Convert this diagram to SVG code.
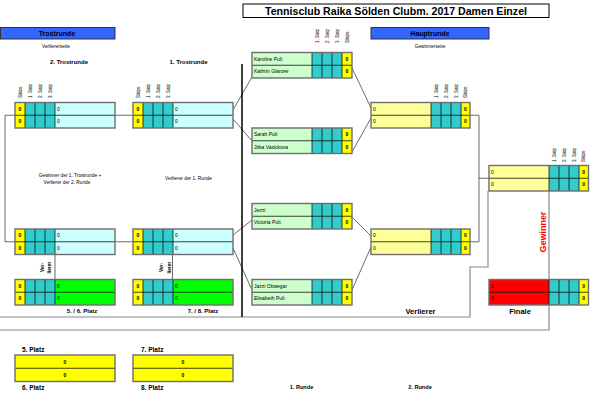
<svg xmlns="http://www.w3.org/2000/svg" width="600" height="400" viewBox="0 0 600 400">
<style>
text{font-family:"Liberation Sans",Arial,sans-serif;fill:#000}
.b{font-weight:bold}
.y{fill:#ffff00}.t{fill:#33cccc}.c{fill:#ccffff}.g{fill:#00ff00}.lg{fill:#ccffcc}.ly{fill:#ffff99}.r{fill:#ff0000}
.o{fill:none;stroke:#6e6e6e;stroke-width:1.4}
.k{fill:none;stroke:#111;stroke-width:.8}
.cn{fill:none;stroke:#444;stroke-width:.8}
.bd{fill:none;stroke:#8a8a8a;stroke-width:1.2}
.z{font-size:5px;font-weight:bold;text-anchor:middle}
.n{font-size:5px}
.h{font-size:4.5px}
.m{text-anchor:middle}
</style>
<rect width="600" height="400" fill="#fff"/>

<g id="header">
<rect x="243" y="4" width="306" height="13.5" fill="#fff" stroke="#000" stroke-width="1"/>
<text x="396" y="14.8" class="b m" font-size="10.5" textLength="262" lengthAdjust="spacingAndGlyphs">Tennisclub Raika Sölden Clubm. 2017 Damen Einzel</text>
<rect x="0.5" y="27.5" width="114.5" height="11.5" fill="#3366ff" stroke="#333" stroke-width="1"/>
<text x="57" y="36" class="b m" font-size="7">Trostrunde</text>
<text x="56" y="47.5" class="m" font-size="4.8">Verliererseite</text>
<rect x="371" y="27.5" width="118" height="11.5" fill="#3366ff" stroke="#333" stroke-width="1"/>
<text x="430" y="36" class="b m" font-size="7">Hauptrunde</text>
<text x="430" y="47.5" class="m" font-size="4.8">Gewinnerseite</text>
<text x="69" y="64" class="b m" font-size="6">2. Trostrunde</text>
<text x="188.5" y="64" class="b m" font-size="6">1. Trostrunde</text>
<text x="70" y="176.8" class="m" font-size="4.8">Gewinner der 1. Trostrunde +</text>
<text x="67" y="183.5" class="m" font-size="4.8">Verlierer der 2. Runde</text>
<text x="188.5" y="180" class="m" font-size="4.8">Verlierer der 1. Runde</text>
<text x="82" y="312.5" class="b m" font-size="6">5. / 6. Platz</text>
<text x="203" y="312.5" class="b m" font-size="6">7. / 8. Platz</text>
<text x="420.5" y="313.8" class="b m" font-size="7.5">Verlierer</text>
<text x="520" y="314.3" class="b m" font-size="7.5">Finale</text>
<text x="22" y="351.5" class="b" font-size="6.5">5. Platz</text>
<text x="22" y="389.7" class="b" font-size="6.5">6. Platz</text>
<text x="141" y="351.5" class="b" font-size="6.5">7. Platz</text>
<text x="141" y="389.7" class="b" font-size="6.5">8. Platz</text>
<text x="301.5" y="389" class="b m" font-size="5.6">1. Runde</text>
<text x="420" y="389" class="b m" font-size="5.6">2. Runde</text>
<text transform="rotate(-90 545.5 232)" x="545.5" y="232" class="b m" font-size="9" style="fill:#ff0000">Gewinner</text>
<text transform="rotate(-90 43.5 267.5)" x="43.5" y="267.5" class="b m" font-size="4.8">Ver-<tspan x="43.5" dy="7.8">lierer</tspan></text>
<text transform="rotate(-90 162.8 267.5)" x="162.8" y="267.5" class="b m" font-size="4.8">Ver-<tspan x="162.8" dy="7.8">lierer</tspan></text>
</g>

<g id="column-labels" class="h">
<text transform="rotate(-90 21.6 98)" x="21.6" y="98">Sätze</text>
<text transform="rotate(-90 31.6 98)" x="31.6" y="98">1. Satz</text>
<text transform="rotate(-90 41.6 98)" x="41.6" y="98">2. Satz</text>
<text transform="rotate(-90 51.6 98)" x="51.6" y="98">3. Satz</text>
<text transform="rotate(-90 139.6 98)" x="139.6" y="98">Sätze</text>
<text transform="rotate(-90 149.6 98)" x="149.6" y="98">1. Satz</text>
<text transform="rotate(-90 159.6 98)" x="159.6" y="98">2. Satz</text>
<text transform="rotate(-90 169.6 98)" x="169.6" y="98">3. Satz</text>
<text transform="rotate(-90 318.6 43)" x="318.6" y="43">1. Satz</text>
<text transform="rotate(-90 328.6 43)" x="328.6" y="43">2. Satz</text>
<text transform="rotate(-90 338.6 43)" x="338.6" y="43">3. Satz</text>
<text transform="rotate(-90 348.6 43)" x="348.6" y="43">Sätze</text>
<text transform="rotate(-90 437.6 98)" x="437.6" y="98">1. Satz</text>
<text transform="rotate(-90 447.6 98)" x="447.6" y="98">2. Satz</text>
<text transform="rotate(-90 457.6 98)" x="457.6" y="98">3. Satz</text>
<text transform="rotate(-90 467.2 98)" x="467.2" y="98">Sätze</text>
<text transform="rotate(-90 555.6 162)" x="555.6" y="162">1. Satz</text>
<text transform="rotate(-90 565.6 162)" x="565.6" y="162">2. Satz</text>
<text transform="rotate(-90 575.6 162)" x="575.6" y="162">3. Satz</text>
<text transform="rotate(-90 585.4 162)" x="585.4" y="162">Sätze</text>
</g>

<g id="connectors">
<path class="cn" d="M133,115.25H5V241.75H133"/>
<path class="cn" d="M233,110L252,77M233,119L252,141M233,235L252,220M233,248L252,290"/>
<path class="cn" d="M352,68L371,108M352,152L371,118M352,217L371,236M352,290L371,247"/>
<path class="cn" d="M470,115.25H479V241.75H470M479,178.25H489"/>
<path class="cn" d="M55,254.5V279.5M172.5,254.5V279.5"/>
<path class="bd" d="M0,317H470V267H488V191"/>
<path class="bd" d="M0,330H549V191"/>
<path d="M242,64V317" stroke="#000" stroke-width="1.5" fill="none"/>
</g>

<g id="trost2-a">
<rect class="y" x="15" y="102.5" width="10" height="25.5"/><rect class="t" x="25" y="102.5" width="30" height="25.5"/><rect class="c" x="55" y="102.5" width="60" height="25.5"/>
<path class="k" d="M25,102.5v25.5M35,102.5v25.5M45,102.5v25.5M55,102.5v25.5M15,115.25h100"/>
<rect class="o" x="15" y="102.5" width="100" height="25.5"/>
<text class="z" x="20" y="110.7">0</text><text class="z" x="20" y="123.4">0</text>
<text class="n" x="57" y="110.7">0</text><text class="n" x="57" y="123.4">0</text>
</g>
<g id="trost1-a">
<rect class="y" x="133" y="102.5" width="10" height="25.5"/><rect class="t" x="143" y="102.5" width="30" height="25.5"/><rect class="c" x="173" y="102.5" width="60" height="25.5"/>
<path class="k" d="M143,102.5v25.5M153,102.5v25.5M163,102.5v25.5M173,102.5v25.5M133,115.25h100"/>
<rect class="o" x="133" y="102.5" width="100" height="25.5"/>
<text class="z" x="138" y="110.7">0</text><text class="z" x="138" y="123.4">0</text>
<text class="n" x="175" y="110.7">0</text><text class="n" x="175" y="123.4">0</text>
</g>
<g id="trost2-b">
<rect class="y" x="15" y="229" width="10" height="25.5"/><rect class="t" x="25" y="229" width="30" height="25.5"/><rect class="c" x="55" y="229" width="60" height="25.5"/>
<path class="k" d="M25,229v25.5M35,229v25.5M45,229v25.5M55,229v25.5M15,241.75h100"/>
<rect class="o" x="15" y="229" width="100" height="25.5"/>
<text class="z" x="20" y="237.2">0</text><text class="z" x="20" y="249.9">0</text>
<text class="n" x="57" y="237.2">0</text><text class="n" x="57" y="249.9">0</text>
</g>
<g id="trost1-b">
<rect class="y" x="133" y="229" width="10" height="25.5"/><rect class="t" x="143" y="229" width="30" height="25.5"/><rect class="c" x="173" y="229" width="60" height="25.5"/>
<path class="k" d="M143,229v25.5M153,229v25.5M163,229v25.5M173,229v25.5M133,241.75h100"/>
<rect class="o" x="133" y="229" width="100" height="25.5"/>
<text class="z" x="138" y="237.2">0</text><text class="z" x="138" y="249.9">0</text>
<text class="n" x="175" y="237.2">0</text><text class="n" x="175" y="249.9">0</text>
</g>
<g id="platz56-match">
<rect class="y" x="15" y="279.5" width="10" height="25.5"/><rect class="t" x="25" y="279.5" width="30" height="25.5"/><rect class="g" x="55" y="279.5" width="60" height="25.5"/>
<path class="k" d="M25,279.5v25.5M35,279.5v25.5M45,279.5v25.5M55,279.5v25.5M15,292.25h100"/>
<rect class="o" x="15" y="279.5" width="100" height="25.5"/>
<text class="z" x="20" y="287.7">0</text><text class="z" x="20" y="300.4">0</text>
<text class="n" x="57" y="287.7">0</text><text class="n" x="57" y="300.4">0</text>
</g>
<g id="platz78-match">
<rect class="y" x="133" y="279.5" width="10" height="25.5"/><rect class="t" x="143" y="279.5" width="30" height="25.5"/><rect class="g" x="173" y="279.5" width="60" height="25.5"/>
<path class="k" d="M143,279.5v25.5M153,279.5v25.5M163,279.5v25.5M173,279.5v25.5M133,292.25h100"/>
<rect class="o" x="133" y="279.5" width="100" height="25.5"/>
<text class="z" x="138" y="287.7">0</text><text class="z" x="138" y="300.4">0</text>
<text class="n" x="175" y="287.7">0</text><text class="n" x="175" y="300.4">0</text>
</g>

<g id="qf1">
<rect class="lg" x="252" y="52.5" width="60" height="25.5"/><rect class="t" x="312" y="52.5" width="30" height="25.5"/><rect class="y" x="342" y="52.5" width="10" height="25.5"/>
<path class="k" d="M312,52.5v25.5M322,52.5v25.5M332,52.5v25.5M342,52.5v25.5M252,65.25h100"/>
<rect class="o" x="252" y="52.5" width="100" height="25.5"/>
<text class="n" x="254" y="60.7">Karoline Pult</text><text class="n" x="254" y="73.4">Kathrin Glanzer</text>
<text class="z" x="347" y="60.7">0</text><text class="z" x="347" y="73.4">0</text>
</g>
<g id="qf2">
<rect class="lg" x="252" y="128" width="60" height="25.5"/><rect class="t" x="312" y="128" width="30" height="25.5"/><rect class="y" x="342" y="128" width="10" height="25.5"/>
<path class="k" d="M312,128v25.5M322,128v25.5M332,128v25.5M342,128v25.5M252,140.75h100"/>
<rect class="o" x="252" y="128" width="100" height="25.5"/>
<text class="n" x="254" y="136.2">Sarah Pult</text><text class="n" x="254" y="148.9">Jitka Vasickova</text>
<text class="z" x="347" y="136.2">0</text><text class="z" x="347" y="148.9">0</text>
</g>
<g id="qf3">
<rect class="lg" x="252" y="203.5" width="60" height="25.5"/><rect class="t" x="312" y="203.5" width="30" height="25.5"/><rect class="y" x="342" y="203.5" width="10" height="25.5"/>
<path class="k" d="M312,203.5v25.5M322,203.5v25.5M332,203.5v25.5M342,203.5v25.5M252,216.25h100"/>
<rect class="o" x="252" y="203.5" width="100" height="25.5"/>
<text class="n" x="254" y="211.7">Jezzi</text><text class="n" x="254" y="224.4">Victoria Pult</text>
<text class="z" x="347" y="211.7">0</text><text class="z" x="347" y="224.4">0</text>
</g>
<g id="qf4">
<rect class="lg" x="252" y="279.5" width="60" height="25.5"/><rect class="t" x="312" y="279.5" width="30" height="25.5"/><rect class="y" x="342" y="279.5" width="10" height="25.5"/>
<path class="k" d="M312,279.5v25.5M322,279.5v25.5M332,279.5v25.5M342,279.5v25.5M252,292.25h100"/>
<rect class="o" x="252" y="279.5" width="100" height="25.5"/>
<text class="n" x="254" y="287.7">Jazzi Obwegar</text><text class="n" x="254" y="300.4">Elisabeth Pult</text>
<text class="z" x="347" y="287.7">0</text><text class="z" x="347" y="300.4">0</text>
</g>

<g id="sf1">
<rect class="ly" x="371" y="102.5" width="60" height="25.5"/><rect class="t" x="431" y="102.5" width="30" height="25.5"/><rect class="y" x="461" y="102.5" width="9" height="25.5"/>
<path class="k" d="M431,102.5v25.5M441,102.5v25.5M451,102.5v25.5M461,102.5v25.5M371,115.25h99"/>
<rect class="o" x="371" y="102.5" width="99" height="25.5"/>
<text class="n" x="373" y="110.7">0</text><text class="n" x="373" y="123.4">0</text>
<text class="z" x="465.5" y="110.7">0</text><text class="z" x="465.5" y="123.4">0</text>
</g>
<g id="sf2">
<rect class="ly" x="371" y="229" width="60" height="25.5"/><rect class="t" x="431" y="229" width="30" height="25.5"/><rect class="y" x="461" y="229" width="9" height="25.5"/>
<path class="k" d="M431,229v25.5M441,229v25.5M451,229v25.5M461,229v25.5M371,241.75h99"/>
<rect class="o" x="371" y="229" width="99" height="25.5"/>
<text class="n" x="373" y="237.2">0</text><text class="n" x="373" y="249.9">0</text>
<text class="z" x="465.5" y="237.2">0</text><text class="z" x="465.5" y="249.9">0</text>
</g>
<g id="final">
<rect class="ly" x="489" y="165.5" width="60" height="25.5"/><rect class="t" x="549" y="165.5" width="30" height="25.5"/><rect class="y" x="579" y="165.5" width="9.5" height="25.5"/>
<path class="k" d="M549,165.5v25.5M559,165.5v25.5M569,165.5v25.5M579,165.5v25.5M489,178.25h99.5"/>
<rect class="o" x="489" y="165.5" width="99.5" height="25.5"/>
<text class="n" x="491" y="173.7">0</text><text class="n" x="491" y="186.4">0</text>
<text class="z" x="583.7" y="173.7">0</text><text class="z" x="583.7" y="186.4">0</text>
</g>
<g id="finale-result">
<rect class="r" x="489" y="279.5" width="60" height="25.5"/><rect class="t" x="549" y="279.5" width="30" height="25.5"/><rect class="y" x="579" y="279.5" width="9.5" height="25.5"/>
<path class="k" d="M549,279.5v25.5M559,279.5v25.5M569,279.5v25.5M579,279.5v25.5M489,292.25h99.5"/>
<rect class="o" x="489" y="279.5" width="99.5" height="25.5"/>
<text class="n" x="491" y="287.7">0</text><text class="n" x="491" y="300.4">0</text>
<text class="z" x="583.7" y="287.7">0</text><text class="z" x="583.7" y="300.4">0</text>
</g>

<g id="platz-5-6">
<rect class="y" x="15" y="355" width="100" height="26.5"/>
<path class="k" d="M15,368.25h100"/>
<rect class="o" x="15" y="355" width="100" height="26.5"/>
<text class="z" x="65" y="363.6">0</text><text class="z" x="65" y="376.9">0</text>
</g>
<g id="platz-7-8">
<rect class="y" x="133" y="355" width="100" height="26.5"/>
<path class="k" d="M133,368.25h100"/>
<rect class="o" x="133" y="355" width="100" height="26.5"/>
<text class="z" x="183" y="363.6">0</text><text class="z" x="183" y="376.9">0</text>
</g>
</svg>
